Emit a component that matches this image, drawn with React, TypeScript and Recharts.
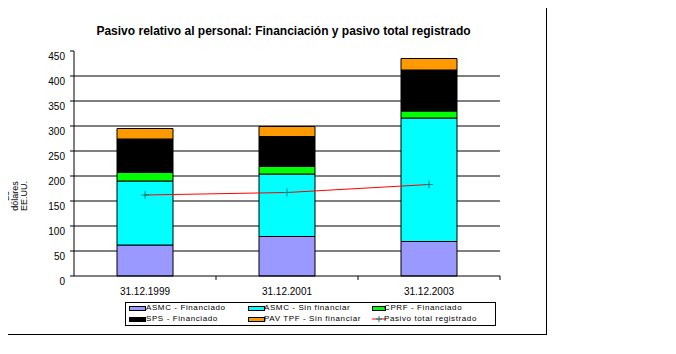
import React from "react";
import {
  ComposedChart,
  Bar,
  Line,
  XAxis,
  YAxis,
  CartesianGrid,
} from "recharts";

// values (millions of US dollars)
const fechas = ["31.12.1999", "31.12.2001", "31.12.2003"];
const asmcFinanciado = [62, 79, 69];
const asmcSinFinanciar = [128, 125, 247];
const cprfFinanciado = [17, 15, 14];
const spsFinanciado = [67, 60, 82];
const pavSinFinanciar = [21, 20, 23];
const pasivoTotal = [162, 167, 183];

const yTicks = [0, 50, 100, 150, 200, 250, 300, 350, 400, 450];
const gridValues = [50, 100, 150, 200, 250, 300, 350, 400];
const yTitleLines = ["de", "dólares", "EE.UU."];

const FONT = "Arial, 'Liberation Sans', sans-serif";

const series = [
  { key: "asmcFin", name: "ASMC - Financiado", color: "#9999FF" },
  { key: "asmcSin", name: "ASMC - Sin financiar", color: "#00FFFF" },
  { key: "cprf", name: "CPRF - Financiado", color: "#00FF00" },
  { key: "sps", name: "SPS - Financiado", color: "#000000" },
  { key: "pav", name: "PAV TPF - Sin financiar", color: "#FF9900" },
];
const lineName = "Pasivo total registrado";

const data = fechas.map((fecha, i) => ({
  fecha,
  asmcFin: asmcFinanciado[i],
  asmcSin: asmcSinFinanciar[i],
  cprf: cprfFinanciado[i],
  sps: spsFinanciado[i],
  pav: pavSinFinanciar[i],
  total: pasivoTotal[i],
}));

// legend layout: 3 columns x 2 rows inside a framed box
const legendSlots = [
  { swatchX: 3, textX: 20, top: 0 },
  { swatchX: 122, textX: 138, top: 0 },
  { swatchX: 246, textX: 258, top: 0 },
  { swatchX: 3, textX: 20, top: 11 },
  { swatchX: 122, textX: 138, top: 11 },
  { swatchX: 246, textX: 258, top: 11 },
];

const CrossDot = (props: any) => {
  const { cx, cy } = props;
  if (cx == null || cy == null) return null;
  return (
    <path
      d={`M${cx - 4},${cy}h8M${cx},${cy - 4}v8`}
      stroke="#008080"
      strokeWidth={1}
      fill="none"
    />
  );
};

const YTick = (props: any) => {
  const { x, y, payload } = props;
  return (
    <text x={x} y={y + 9} textAnchor="end" fontSize={10} fill="#000" fontFamily={FONT}>
      {payload.value}
    </text>
  );
};

const XTick = (props: any) => {
  const { x, y, payload } = props;
  const edge = x + (payload.offset || 0);
  return (
    <g>
      <line x1={edge} x2={edge} y1={y} y2={y + 4} stroke="#000" />
      <text x={x} y={y + 19} textAnchor="middle" fontSize={10} fill="#000" fontFamily={FONT}>
        {payload.value}
      </text>
    </g>
  );
};

const YTitle = () => (
  <g>
    {yTitleLines.map((t, i) => {
      const bx = 9 + i * 9;
      return (
        <text
          key={t}
          x={bx}
          y={196}
          transform={`rotate(-90, ${bx}, 196)`}
          textAnchor="middle"
          fontSize={9}
          fill="#000"
          fontFamily={FONT}
        >
          {t}
        </text>
      );
    })}
  </g>
);

const LegendBox = () => {
  const items = [
    ...series.map((s) => ({ name: s.name, color: s.color, line: false })),
    { name: lineName, color: "#FF0000", line: true },
  ];
  return (
    <div
      style={{
        position: "absolute",
        left: 125,
        top: 302,
        width: 371,
        height: 24,
        border: "1px solid #000",
        boxSizing: "border-box",
        fontFamily: FONT,
        fontSize: 8,
        letterSpacing: 0.6,
        lineHeight: "10px",
        color: "#000",
        whiteSpace: "nowrap",
      }}
    >
      {items.map((it, i) => {
        const slot = legendSlots[i];
        return (
          <React.Fragment key={it.name}>
            {it.line ? (
              <svg
                style={{ position: "absolute", left: slot.swatchX, top: slot.top }}
                width={14}
                height={10}
              >
                <line x1={0} x2={14} y1={5} y2={5} stroke="#FF0000" />
                <path d="M4,5h6M7,2v6" stroke="#008080" />
              </svg>
            ) : (
              <div
                style={{
                  position: "absolute",
                  left: slot.swatchX,
                  top: slot.top + 3,
                  width: i % 3 === 2 ? 12 : 15,
                  height: 3,
                  background: it.color,
                  border: "1px solid #000",
                }}
              />
            )}
            <div style={{ position: "absolute", left: slot.textX, top: slot.top }}>
              {it.name}
            </div>
          </React.Fragment>
        );
      })}
    </div>
  );
};

export default function App() {
  return (
    <div
      style={{
        position: "relative",
        width: 676,
        height: 354,
        margin: -8,
        background: "#fff",
        fontFamily: FONT,
        overflow: "hidden",
      }}
    >
      <div
        style={{
          position: "absolute",
          left: 3,
          top: 3,
          width: 544,
          height: 332,
          border: "1px solid #000",
          boxSizing: "border-box",
        }}
      />
      <div
        style={{
          position: "absolute",
          left: 0,
          top: 24,
          width: 567,
          textAlign: "center",
          fontWeight: "bold",
          fontSize: 12,
          color: "#000",
        }}
      >
        Pasivo relativo al personal: Financiación y pasivo total registrado
      </div>
      <div style={{ position: "absolute", left: 0, top: 0 }}>
        <ComposedChart
          width={676}
          height={354}
          data={data}
          margin={{ top: 51, right: 176, bottom: 58, left: 0 }}
          barCategoryGap="30%"
        >
          <CartesianGrid
            horizontal
            vertical={false}
            stroke="#000"
            horizontalValues={gridValues}
          />
          <XAxis
            dataKey="fecha"
            height={20}
            axisLine={{ stroke: "#000" }}
            tickLine={false}
            tickSize={0}
            tickMargin={0}
            tick={<XTick />}
            interval={0}
          />
          <YAxis
            width={74}
            domain={[0, 450]}
            ticks={yTicks}
            interval={0}
            axisLine={{ stroke: "#000" }}
            tickLine={{ stroke: "#000" }}
            tickSize={4}
            tickMargin={5}
            tick={<YTick />}
          />
          {series.map((s) => (
            <Bar
              key={s.key}
              dataKey={s.key}
              name={s.name}
              stackId="a"
              fill={s.color}
              stroke="#000"
              strokeWidth={1}
              barSize={56}
              isAnimationActive={false}
            />
          ))}
          <Line
            dataKey="total"
            name={lineName}
            type="linear"
            stroke="#FF0000"
            strokeWidth={1}
            dot={<CrossDot />}
            activeDot={false}
            isAnimationActive={false}
          />
          <YTitle />
        </ComposedChart>
      </div>
      <LegendBox />
    </div>
  );
}
